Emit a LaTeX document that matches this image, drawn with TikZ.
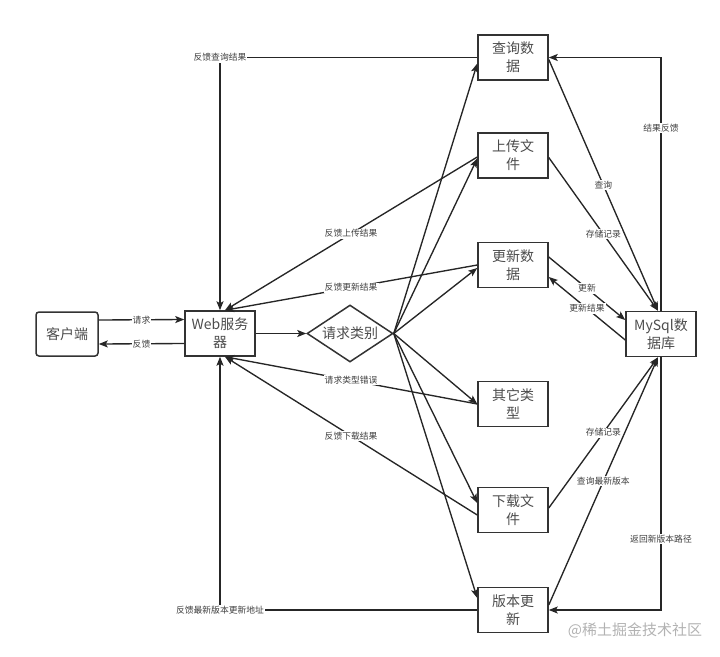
\documentclass[tikz,border=0pt]{standalone}
\usepackage{fontspec}
\setmainfont{Noto Sans CJK SC}
\usetikzlibrary{arrows.meta,shapes.geometric}
\tikzset{
  box/.style={draw=black!80, line width=1.5pt, minimum width=70pt, minimum height=45pt,
    inner sep=0pt, align=center, font=\fontsize{14}{18}\selectfont, text=black!70},
  lbl/.style={fill=white, inner sep=1pt, font=\fontsize{8.8}{10}\selectfont, text=black!75},
  flow/.style={draw=black!85, line width=1.35pt, -{Stealth[length=9pt,width=7pt,inset=2pt]}},
  wmtext/.style={text=black!30, font=\fontsize{15}{18}\selectfont}
}
\begin{document}
\begin{tikzpicture}[x=1pt,y=-1pt]
\useasboundingbox (0,0) rectangle (720,656);
\node[box, rounded corners=3pt, minimum width=62pt, minimum height=44pt] (client) at (67,334) {客户端};
\node[box] (web) at (220,333.5) {Web服务\\器};
\node[box, shape=diamond, aspect=1.5, minimum width=86pt, minimum height=57pt] (cat) at (350,333.5) {请求类别};
\node[box] (query) at (513,57.5) {查询数\\据};
\node[box] (upload) at (513,155.5) {上传文\\件};
\node[box] (update) at (513,265) {更新数\\据};
\node[box] (other) at (513,404) {其它类\\型};
\node[box] (download) at (513,510) {下载文\\件};
\node[box] (version) at (513,610) {版本更\\新};
\node[box] (db) at (661,334) {MySql数\\据库};
\node[wmtext] (wm) at (635,630) {@稀土掘金技术社区};

\draw[flow] ([yshift=14pt]client.east) -- node[lbl]{请求} ([yshift=14pt]web.west);
\draw[flow] ([yshift=-10pt]web.west) -- node[lbl]{反馈} ([yshift=-10pt]client.east);
\draw[flow] (web.east) -- (cat.west);

\draw[flow] (query.west) -| node[lbl]{反馈查询结果} (web.north);
\draw[flow] ([yshift=-1.5pt]upload.west) -- node[lbl]{反馈上传结果} ([xshift=5pt]web.north);
\draw[flow] (update.west) -- node[lbl]{反馈更新结果} ([xshift=5pt]web.north);
\draw[flow] (other.west) -- node[lbl]{请求类型错误} ([xshift=5pt]web.south);
\draw[flow] ([yshift=-5pt]download.west) -- node[lbl]{反馈下载结果} ([xshift=5pt]web.south);
\draw[flow] (version.west) -| node[lbl]{反馈最新版本更新地址} (web.south);

\draw[flow] (cat.east) -- ([yshift=-6pt]query.west);
\draw[flow] (cat.east) -- ([yshift=-3pt]upload.west);
\draw[flow] (cat.east) -- ([yshift=-3pt]update.west);
\draw[flow] (cat.east) -- (other.west);
\draw[flow] (cat.east) -- ([yshift=7pt]download.west);
\draw[flow] (cat.east) -- ([yshift=12pt]version.west);

\draw[flow] ([yshift=-2pt]query.east) -- node[lbl]{查询} ([xshift=-3pt]db.north);
\draw[flow] (db.north) |- node[lbl,pos=0.36]{结果反馈} (query.east);
\draw[flow] ([yshift=-2pt]upload.east) -- node[lbl]{存储记录} ([xshift=-3pt]db.north);
\draw[flow] ([yshift=8pt]update.east) -- node[lbl]{更新} ([yshift=14pt]db.west);
\draw[flow] ([yshift=-6pt]db.west) -- node[lbl]{更新结果} ([yshift=-12pt]update.east);
\draw[flow] ([yshift=2pt]download.east) -- node[lbl]{存储记录} ([xshift=-3pt]db.south);
\draw[flow] ([yshift=5pt]version.east) -- node[lbl]{查询最新版本} ([xshift=-3pt]db.south);
\draw[flow] (db.south) |- node[lbl,pos=0.36]{返回新版本路径} (version.east);
\end{tikzpicture}
\end{document}
